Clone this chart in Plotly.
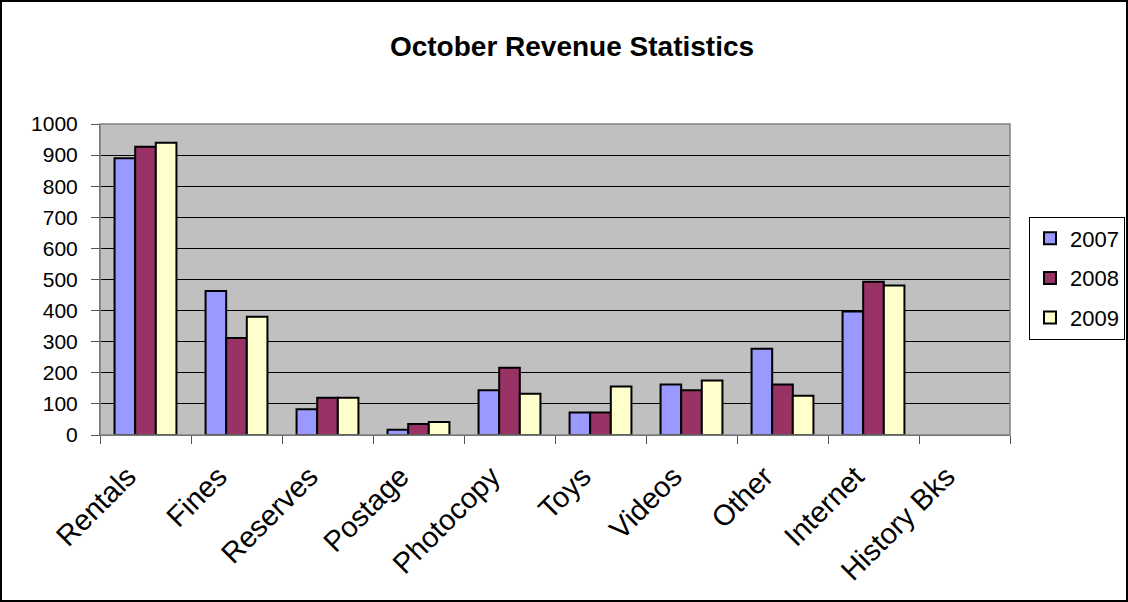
import plotly.graph_objects as go

categories = ["Rentals", "Fines", "Reserves", "Postage", "Photocopy", "Toys", "Videos", "Other", "Internet", "History Bks"]
v2007 = [890, 463, 83, 17, 144, 72, 162, 277, 397, None]
v2008 = [927, 312, 120, 35, 216, 72, 144, 162, 493, None]
v2009 = [940, 380, 120, 42, 133, 156, 175, 126, 481, None]
series_names = ["2007", "2008", "2009"]
colors = ["#9999FF", "#993366", "#FFFFCC"]

fig = go.Figure()
for name, vals, col in zip(series_names, [v2007, v2008, v2009], colors):
    fig.add_trace(go.Bar(x=categories, y=vals, name=name, legendgroup=name,
                         marker=dict(color=col, line=dict(color="black", width=2))))

fig.update_layout(
    width=1128, height=602,
    paper_bgcolor="white", plot_bgcolor="#C0C0C0",
    margin=dict(l=100, r=118, t=124, b=167, autoexpand=False),
    barmode="group", bargap=0.32, bargroupgap=0,
    font=dict(family="Liberation Sans, Arial", color="black", size=19),
    title=dict(text="<b>October Revenue Statistics</b>", x=572 / 1128, xref="container", xanchor="center",
               y=1 - 46 / 602, yanchor="middle",
               font=dict(size=28, family="Liberation Sans, Arial")),
    legend=dict(x=1029 / 1128, xref="container", xanchor="left", y=1 - 278 / 602, yref="container",
                yanchor="middle",
                bordercolor="black", borderwidth=1, bgcolor="white",
                font=dict(size=22), tracegroupgap=8, itemwidth=30),
    showlegend=True,
)
fig.update_yaxes(range=[0, 1000], dtick=100, showgrid=True, gridcolor="black", gridwidth=1,
                 ticks="outside", ticklen=8, tickcolor="#555", showline=True, linecolor="#555",
                 linewidth=1, tickfont=dict(size=21), mirror=False, zeroline=False,
                 ticklabelstandoff=9)
fig.update_xaxes(tickangle=-45, ticks="outside", ticklen=8, tickcolor="#555", tickson="boundaries",
                 showline=True, linecolor="#555", linewidth=1, tickfont=dict(size=29), showgrid=False,
                 ticklabelstandoff=12, ticklabelshift=-18)
fig.add_shape(type="rect", xref="paper", yref="paper", x0=0, x1=1, y0=0, y1=1,
              line=dict(color="#808080", width=1.5), fillcolor="rgba(0,0,0,0)")
fig.add_shape(type="rect", xref="paper", yref="paper", x0=-99/910, x1=1+117/910, y0=-166/311, y1=1+123/311,
              line=dict(color="black", width=2), fillcolor="rgba(0,0,0,0)", layer="above")
fig.write_html("out.html", config={"displayModeBar": False},
               post_script="document.body.style.margin='0px';document.body.style.overflow='hidden';")
